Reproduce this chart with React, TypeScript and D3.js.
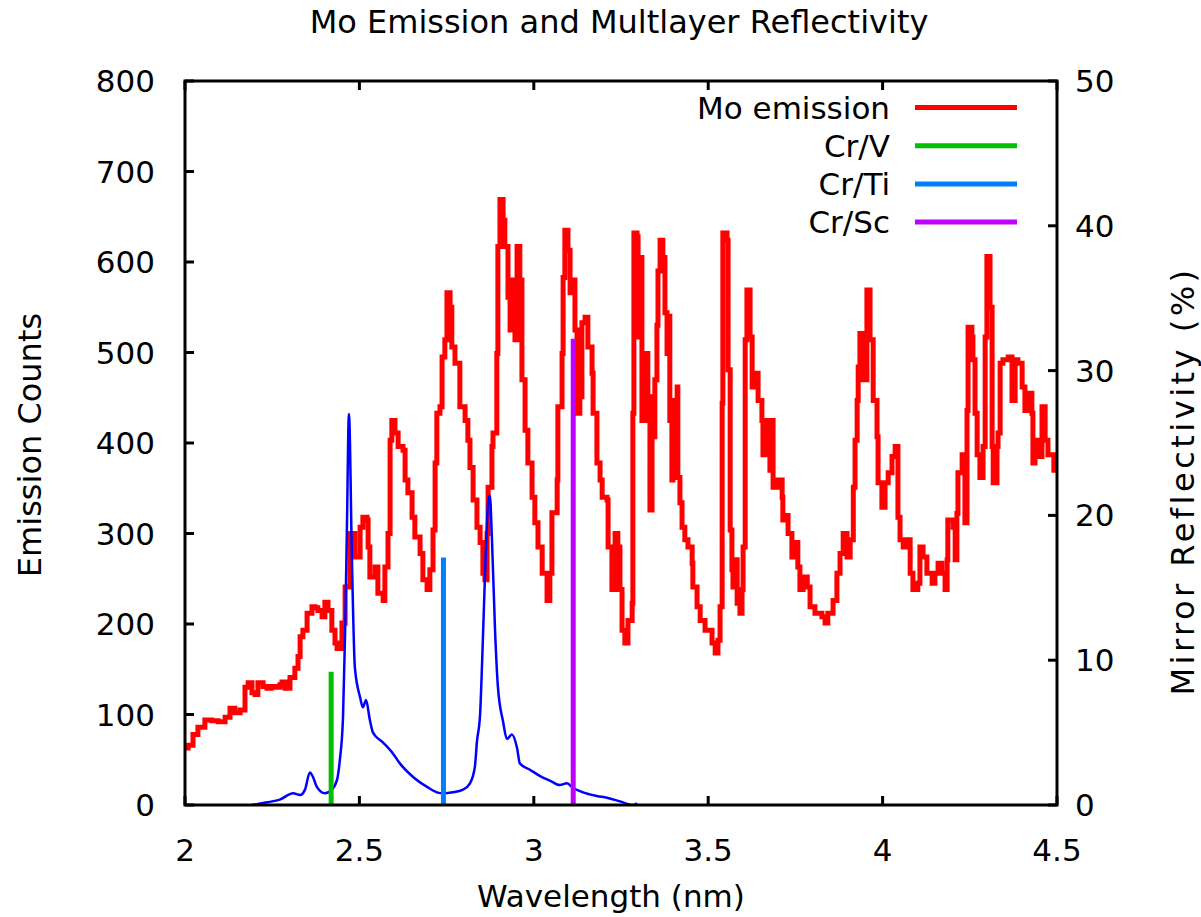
import React from 'react';
import * as d3 from 'd3';

const chartTitle = 'Mo Emission and Multlayer Reflectivity';
const xLabel = 'Wavelength (nm)';
const yLabel = 'Emission Counts';
const y2Label = 'Mirror Reflectivity (%)';

const xTicks = [2, 2.5, 3, 3.5, 4, 4.5];
const yTicks = [0, 100, 200, 300, 400, 500, 600, 700, 800];
const y2Ticks = [0, 10, 20, 30, 40, 50];

const moWavelength = [
  2.003, 2.009, 2.023, 2.037, 2.057, 2.077, 2.095, 2.115, 2.129, 2.143, 2.158, 2.172, 2.181, 2.192, 2.201, 2.209,
  2.224, 2.235, 2.247, 2.258, 2.272, 2.278, 2.287, 2.301, 2.315, 2.324, 2.33, 2.338, 2.35, 2.364, 2.373, 2.381,
  2.393, 2.401, 2.41, 2.421, 2.43, 2.436, 2.45, 2.459, 2.473, 2.487, 2.502, 2.51, 2.522, 2.525, 2.53, 2.545,
  2.553, 2.568, 2.573, 2.582, 2.588, 2.593, 2.602, 2.611, 2.625, 2.631, 2.639, 2.651, 2.659, 2.674, 2.682, 2.694,
  2.702, 2.711, 2.717, 2.722, 2.731, 2.737, 2.745, 2.751, 2.76, 2.765, 2.774, 2.783, 2.788, 2.803, 2.811, 2.817,
  2.826, 2.837, 2.846, 2.854, 2.86, 2.866, 2.869, 2.88, 2.883, 2.894, 2.897, 2.903, 2.912, 2.917, 2.926, 2.932,
  2.937, 2.946, 2.952, 2.96, 2.966, 2.975, 2.983, 2.995, 3.003, 3.012, 3.024, 3.038, 3.046, 3.052, 3.067, 3.069,
  3.081, 3.084, 3.089, 3.098, 3.104, 3.112, 3.118, 3.124, 3.132, 3.138, 3.147, 3.155, 3.167, 3.17, 3.181, 3.19,
  3.196, 3.21, 3.213, 3.224, 3.233, 3.241, 3.247, 3.253, 3.261, 3.27, 3.282, 3.284, 3.287, 3.296, 3.299, 3.304,
  3.31, 3.319, 3.327, 3.333, 3.339, 3.342, 3.347, 3.353, 3.356, 3.362, 3.37, 3.376, 3.382, 3.385, 3.39, 3.396,
  3.399, 3.405, 3.411, 3.413, 3.419, 3.425, 3.433, 3.442, 3.454, 3.456, 3.468, 3.477, 3.491, 3.511, 3.52, 3.528,
  3.534, 3.54, 3.542, 3.554, 3.557, 3.563, 3.568, 3.571, 3.577, 3.583, 3.591, 3.597, 3.6, 3.606, 3.611, 3.62,
  3.626, 3.634, 3.643, 3.654, 3.657, 3.669, 3.677, 3.683, 3.686, 3.7, 3.712, 3.714, 3.72, 3.729, 3.74, 3.749,
  3.757, 3.763, 3.772, 3.784, 3.792, 3.806, 3.826, 3.835, 3.843, 3.858, 3.869, 3.878, 3.887, 3.898, 3.907, 3.916,
  3.921, 3.927, 3.93, 3.935, 3.944, 3.955, 3.964, 3.973, 3.984, 3.987, 3.998, 4.007, 4.016, 4.027, 4.036, 4.044,
  4.05, 4.059, 4.07, 4.079, 4.087, 4.101, 4.107, 4.116, 4.127, 4.142, 4.15, 4.159, 4.17, 4.179, 4.185, 4.187,
  4.202, 4.208, 4.213, 4.216, 4.228, 4.236, 4.242, 4.245, 4.256, 4.259, 4.265, 4.271, 4.279, 4.288, 4.294, 4.299,
  4.308, 4.314, 4.317, 4.328, 4.331, 4.337, 4.345, 4.36, 4.371, 4.38, 4.388, 4.4, 4.408, 4.417, 4.428, 4.431,
  4.437, 4.446, 4.457, 4.466, 4.474, 4.486, 4.491, 4.5,
];
const moCounts = [
  63, 66, 78, 86, 94, 93, 92, 97, 107, 102, 105, 130, 135, 124, 122, 135,
  131, 129, 131, 130, 133, 136, 129, 141, 151, 164, 186, 193, 212, 219, 218, 215,
  208, 224, 215, 193, 179, 173, 201, 241, 300, 274, 307, 318, 315, 285, 252, 263,
  234, 226, 263, 300, 403, 425, 411, 396, 392, 359, 345, 318, 296, 278, 249, 238,
  260, 304, 378, 433, 440, 495, 514, 566, 550, 506, 488, 488, 440, 425, 403, 373,
  337, 307, 290, 256, 249, 300, 351, 396, 411, 499, 617, 669, 646, 617, 561, 525,
  580, 514, 617, 580, 470, 414, 378, 340, 312, 285, 256, 226, 256, 323, 359, 440,
  499, 583, 635, 613, 566, 580, 525, 433, 451, 533, 539, 506, 477, 433, 378, 359,
  340, 337, 285, 238, 300, 285, 238, 193, 179, 204, 223, 433, 632, 628, 517, 605,
  425, 499, 451, 326, 425, 407, 470, 530, 590, 624, 605, 544, 499, 540, 425, 359,
  447, 387, 462, 362, 334, 307, 293, 285, 267, 241, 219, 204, 193, 179, 168, 182,
  219, 444, 632, 624, 481, 304, 260, 241, 271, 223, 212, 238, 285, 514, 569, 517,
  462, 477, 447, 425, 387, 425, 370, 425, 351, 359, 340, 315, 320, 300, 274, 290,
  263, 238, 252, 241, 219, 212, 208, 201, 212, 226, 256, 278, 300, 274, 293, 351,
  403, 447, 484, 521, 470, 569, 514, 447, 407, 356, 329, 356, 367, 385, 396, 318,
  293, 285, 293, 256, 238, 245, 285, 274, 256, 245, 256, 267, 256, 238, 271, 315,
  307, 271, 322, 367, 387, 312, 436, 528, 517, 492, 433, 387, 362, 396, 517, 606,
  550, 396, 356, 396, 411, 488, 492, 495, 447, 492, 488, 462, 436, 455, 433, 378,
  403, 385, 440, 403, 387, 387, 370, 375,
];

const traceWavelength = [
  2.192, 2.235, 2.272, 2.31, 2.33, 2.344, 2.358, 2.367, 2.378, 2.401, 2.421, 2.436, 2.444, 2.453, 2.459, 2.464,
  2.47, 2.479, 2.487, 2.502, 2.51, 2.519, 2.53, 2.539, 2.568, 2.596, 2.616, 2.654, 2.694, 2.722, 2.74, 2.768,
  2.797, 2.817, 2.831, 2.837, 2.846, 2.852, 2.86, 2.869, 2.874, 2.88, 2.889, 2.897, 2.912, 2.923, 2.937, 2.952,
  2.96, 2.989, 3.018, 3.046, 3.075, 3.095, 3.112, 3.141, 3.181, 3.21, 3.247, 3.284, 3.296,
];
const traceCounts = [
  0, 3, 6, 13, 11, 17, 36, 31, 20, 13, 17, 28, 50, 97, 190, 301,
  432, 263, 152, 119, 108, 116, 94, 80, 69, 57, 46, 31, 20, 14, 13, 14,
  17, 24, 42, 70, 100, 160, 253, 334, 342, 294, 192, 131, 92, 73, 78, 63,
  46, 39, 32, 27, 22, 24, 19, 14, 10, 8, 4, 0, 2,
];

const mirrorNames = ['Cr/V', 'Cr/Ti', 'Cr/Sc'];
const mirrorWavelength = [2.419, 2.741, 3.113];
const mirrorReflectivity = [9.2, 17.1, 32.2];
const mirrorColors = ['#00c000', '#0080ff', '#c000ff'];

const legendNames = ['Mo emission', ...mirrorNames];
const legendColors = ['#ff0000', ...mirrorColors];

const W = 1201;
const H = 917;
const L = 185;
const R = 1057;
const T = 81;
const B = 805;
const FONT = '"DejaVu Sans", Verdana, sans-serif';

export default function App() {
  const x = d3.scaleLinear().domain([2, 4.5]).range([L, R]);
  const y = d3.scaleLinear().domain([0, 800]).range([B, T]);
  const y2 = d3.scaleLinear().domain([0, 50]).range([B, T]);

  const moLine = d3
    .line<number>()
    .x((_, i) => x(moWavelength[i]))
    .y((d) => y(d))
    .curve(d3.curveStepAfter);
  const traceLine = d3
    .line<number>()
    .x((_, i) => x(traceWavelength[i]))
    .y((d) => y(d))
    .curve(d3.curveMonotoneX);

  const tickLen = 9;

  return (
    <svg
      width={W}
      height={H}
      style={{ position: 'absolute', left: 0, top: 0, background: '#fff' }}
      fontFamily={FONT}
    >
      <rect x={0} y={0} width={W} height={H} fill="#fff" />
      <defs>
        <clipPath id="plot">
          <rect x={L} y={T} width={R - L} height={B - T} />
        </clipPath>
      </defs>

      <text x={619} y={33} textAnchor="middle" fontSize={32} fill="#000">
        {chartTitle}
      </text>

      <g clipPath="url(#plot)">
        <path d={moLine(moCounts) || ''} fill="none" stroke="#ff0000" strokeWidth={5} strokeLinejoin="miter" />
        <path d={traceLine(traceCounts) || ''} fill="none" stroke="#0000ff" strokeWidth={2.5} />
        {mirrorWavelength.map((w, i) => (
          <line
            key={i}
            x1={x(w)}
            x2={x(w)}
            y1={y2(0)}
            y2={y2(mirrorReflectivity[i])}
            stroke={mirrorColors[i]}
            strokeWidth={5}
          />
        ))}
      </g>

      {/* frame */}
      <rect x={L} y={T} width={R - L} height={B - T} fill="none" stroke="#000" strokeWidth={3} />

      {/* left ticks */}
      {yTicks.map((t) => (
        <g key={'y' + t}>
          <line x1={L} x2={L + tickLen} y1={y(t)} y2={y(t)} stroke="#000" strokeWidth={3} />
          <text x={155} y={y(t) + 11} textAnchor="end" fontSize={31} fill="#000">
            {t}
          </text>
        </g>
      ))}
      {/* right ticks */}
      {y2Ticks.map((t) => (
        <g key={'y2' + t}>
          <line x1={R - tickLen} x2={R} y1={y2(t)} y2={y2(t)} stroke="#000" strokeWidth={3} />
          <text x={1075} y={y2(t) + 11} textAnchor="start" fontSize={31} fill="#000">
            {t}
          </text>
        </g>
      ))}
      {/* x ticks */}
      {xTicks.map((t) => (
        <g key={'x' + t}>
          <line x1={x(t)} x2={x(t)} y1={B} y2={B - tickLen} stroke="#000" strokeWidth={3} />
          <line x1={x(t)} x2={x(t)} y1={T} y2={T + tickLen} stroke="#000" strokeWidth={3} />
          <text x={x(t)} y={861} textAnchor="middle" fontSize={31} fill="#000">
            {t}
          </text>
        </g>
      ))}

      <text x={611} y={907} textAnchor="middle" fontSize={31} fill="#000">
        {xLabel}
      </text>
      <text
        transform={`translate(41, 445) rotate(-90)`}
        textAnchor="middle"
        fontSize={32}
        fill="#000"
      >
        {yLabel}
      </text>
      <text
        transform={`translate(1194, 481) rotate(-90)`}
        textAnchor="middle"
        fontSize={32}
        letterSpacing={3.5}
        fill="#000"
      >
        {y2Label}
      </text>

      {/* legend */}
      {legendNames.map((n, i) => {
        const ly = 107.5 + i * 38.2;
        return (
          <g key={n}>
            <text x={890} y={ly + 11} textAnchor="end" fontSize={31} fill="#000">
              {n}
            </text>
            <line x1={915} x2={1017} y1={ly} y2={ly} stroke={legendColors[i]} strokeWidth={5} />
          </g>
        );
      })}
    </svg>
  );
}
